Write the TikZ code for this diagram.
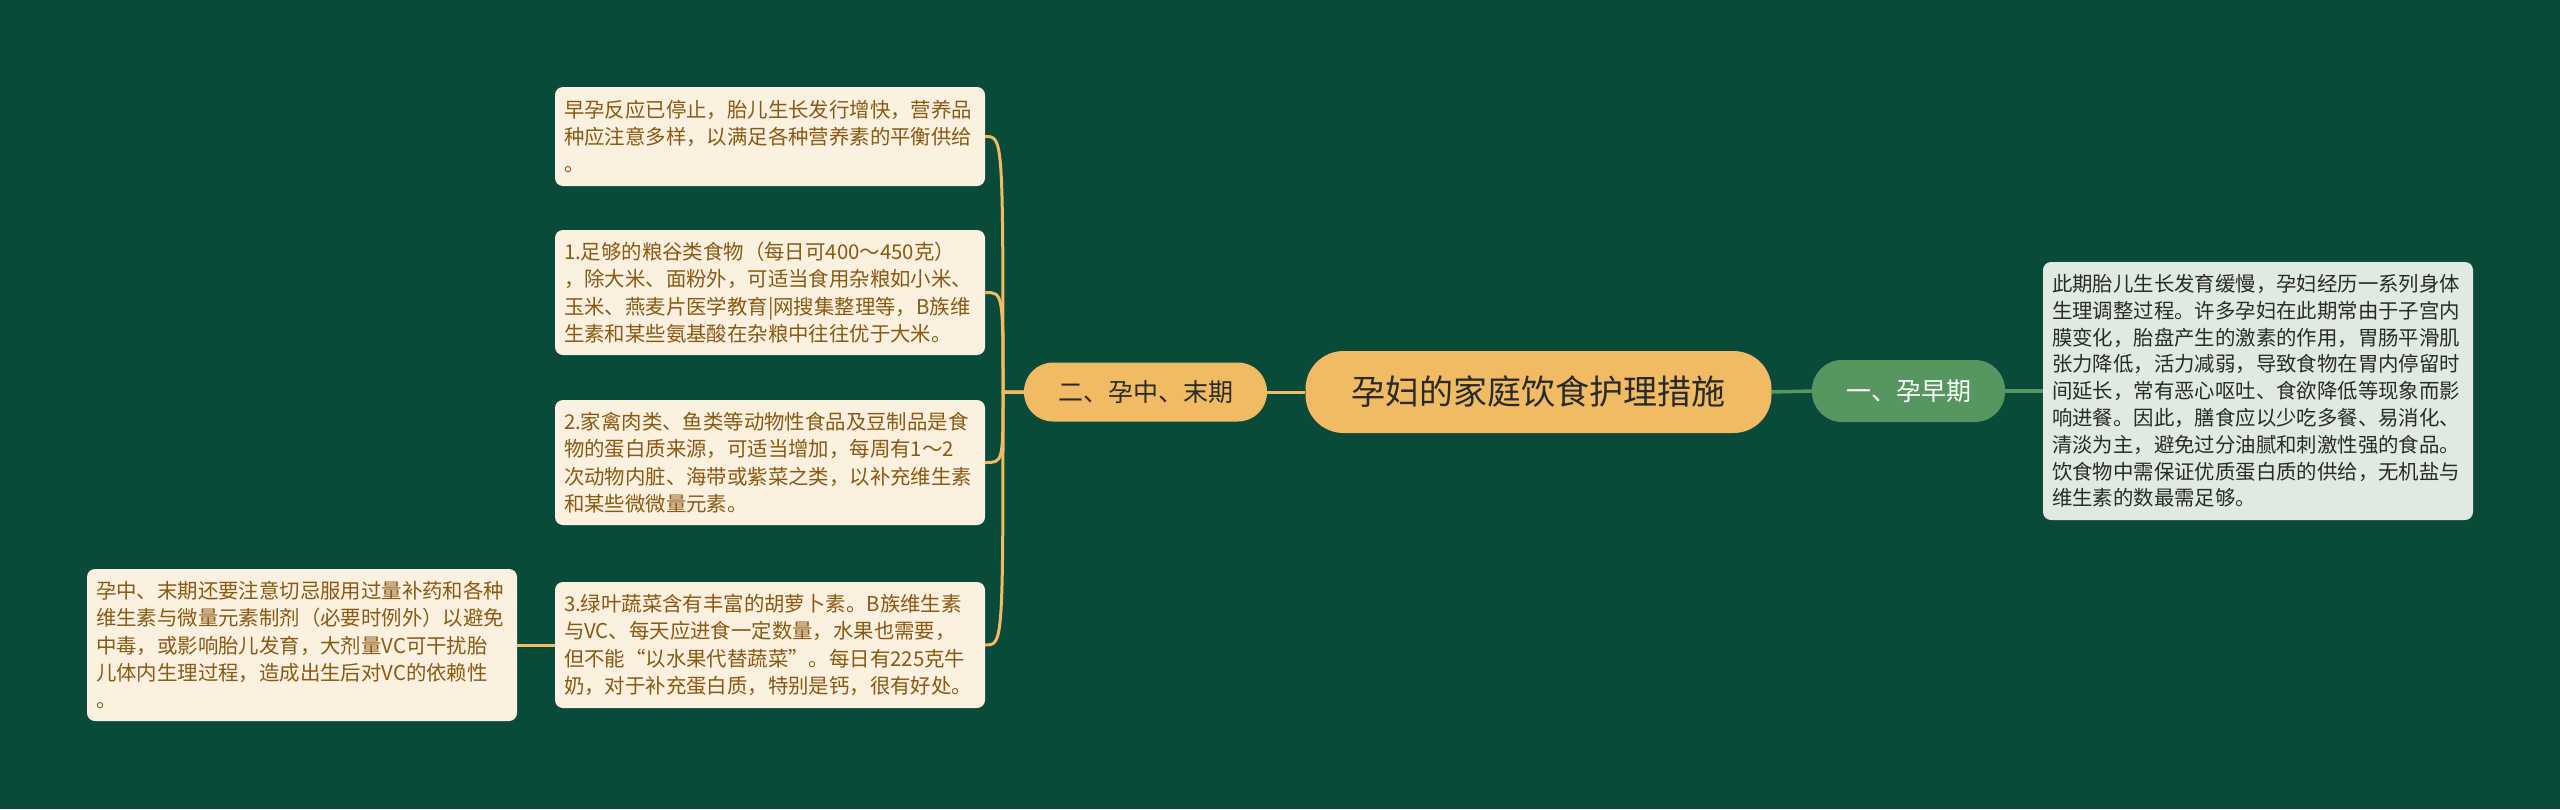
\documentclass[tikz,border=0pt]{standalone}
\usepackage{fontspec}
\setmainfont{Noto Sans CJK SC}
\definecolor{bg}{HTML}{0A4A3A}
\definecolor{ylw}{HTML}{F0BB62}
\definecolor{grn}{HTML}{579660}
\definecolor{cream}{HTML}{FCF0E0}
\definecolor{brown}{HTML}{8A5A12}
\definecolor{pale}{HTML}{DFEAE1}
\definecolor{dark}{HTML}{2A2A2A}
\tikzset{
  leftbox/.style={draw=none, fill=cream, text=brown, rounded corners=8pt, align=left,
    text width=412pt, inner xsep=9pt, inner ysep=6pt, minimum width=430pt,
    font=\fontsize{20.4pt}{27.4pt}\selectfont},
  rightbox/.style={draw=none, fill=pale, text=dark, rounded corners=8pt, align=left,
    text width=412pt, inner xsep=9pt, inner ysep=6pt, minimum width=430pt,
    font=\fontsize{20.4pt}{26.8pt}\selectfont},
  mainnode/.style={fill=ylw, text=dark, rounded corners=38pt, minimum width=466pt,
    minimum height=82pt, inner sep=0pt, font=\fontsize{34pt}{40pt}\selectfont},
  branchY/.style={fill=ylw, text=dark, rounded corners=29pt, minimum width=243pt,
    minimum height=59pt, inner sep=0pt, font=\fontsize{25pt}{30pt}\selectfont},
  branchG/.style={fill=grn, text=white, rounded corners=30pt, minimum width=193pt,
    minimum height=62pt, inner sep=0pt, font=\fontsize{25pt}{30pt}\selectfont},
  yline/.style={draw=ylw, line width=3pt},
  gline/.style={draw=grn, line width=3.5pt},
}
\begin{document}
\begin{tikzpicture}[x=1pt,y=-1pt]
\fill[bg] (0,0) rectangle (2560,809);
\useasboundingbox (0,0) rectangle (2560,809);

\node[mainnode] (c) at (1538.5,392) {孕妇的家庭饮食护理措施};
\node[branchG] (g) at (1908.5,391) {一、孕早期};
\node[branchY] (y) at (1145.5,392) {二、孕中、末期};

\node[rightbox, minimum height=258pt] (r) at (2258,391) {此期胎儿生长发育缓慢，孕妇经历一系列身体\\生理调整过程。许多孕妇在此期常由于子宫内\\膜变化，胎盘产生的激素的作用，胃肠平滑肌\\张力降低，活力减弱，导致食物在胃内停留时\\间延长，常有恶心呕吐、食欲降低等现象而影\\响进餐。因此，膳食应以少吃多餐、易消化、\\清淡为主，避免过分油腻和刺激性强的食品。\\饮食物中需保证优质蛋白质的供给，无机盐与\\维生素的数最需足够。};

\node[leftbox, minimum height=99pt] (l1) at (770,136.5) {早孕反应已停止，胎儿生长发行增快，营养品\\种应注意多样，以满足各种营养素的平衡供给\\。};
\node[leftbox, minimum height=125pt] (l2) at (770,292.5) {1.足够的粮谷类食物（每日可400～450克）\\，除大米、面粉外，可适当食用杂粮如小米、\\玉米、燕麦片医学教育|网搜集整理等，B族维\\生素和某些氨基酸在杂粮中往往优于大米。};
\node[leftbox, minimum height=125pt] (l3) at (770,462.5) {2.家禽肉类、鱼类等动物性食品及豆制品是食\\物的蛋白质来源，可适当增加，每周有1～2\\次动物内脏、海带或紫菜之类，以补充维生素\\和某些微微量元素。};
\node[leftbox, minimum height=126pt] (l4) at (770,645) {3.绿叶蔬菜含有丰富的胡萝卜素。B族维生素\\与VC、每天应进食一定数量，水果也需要，\\但不能“以水果代替蔬菜”。每日有225克牛\\奶，对于补充蛋白质，特别是钙，很有好处。};
\node[leftbox, minimum height=152pt] (l5) at (302,645) {孕中、末期还要注意切忌服用过量补药和各种\\维生素与微量元素制剂（必要时例外）以避免\\中毒，或影响胎儿发育，大剂量VC可干扰胎\\儿体内生理过程，造成出生后对VC的依赖性\\。};

\draw[gline] (c.east) -- (g.west);
\draw[gline] (g.east) -- (r.west);
\draw[yline] (c.west) -- (y.west -| y.east);

\coordinate (trunk) at (1003,392);
\draw[yline] (y.west) -- (trunk) .. controls (trunk |- l1.east) .. (l1.east);
\draw[yline] (y.west) -- (trunk) .. controls (trunk |- l2.east) .. (l2.east);
\draw[yline] (y.west) -- (trunk) .. controls (trunk |- l3.east) .. (l3.east);
\draw[yline] (y.west) -- (trunk) .. controls (trunk |- l4.east) .. (l4.east);
\draw[yline] (l4.west) -- (l5.east);
\end{tikzpicture}
\end{document}
